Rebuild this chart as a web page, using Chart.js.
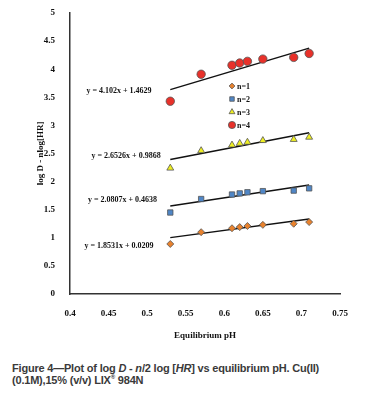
<!DOCTYPE html>
<html>
<head>
<meta charset="utf-8">
<script src="https://cdn.jsdelivr.net/npm/chart.js@4/dist/chart.umd.min.js"></script>
<style>
  html, body { margin: 0; padding: 0; background: #fff; }
  #wrap { position: relative; width: 375px; height: 345px; }
  #cap { position: absolute; left: 12px; top: 362px; width: 340px; font: bold 11px "Liberation Sans", Arial, sans-serif; color: #3a3a3a; line-height: 12px; letter-spacing: -0.2px; }
</style>
</head>
<body>
<div id="wrap"><canvas id="c"></canvas></div>
<div id="cap">Figure 4—Plot of log <i>D</i> - <i>n</i>/2 log [<i>HR</i>] vs equilibrium pH. Cu(II)<br>(0.1M),15% (v/v) LIX<sup style="font-size:6px;line-height:0">®</sup> 984N</div>
<script>
/* log D - n log[HR] vs equilibrium pH, four n values with linear fits */
const pH = [0.53, 0.57, 0.61, 0.62, 0.63, 0.65, 0.69, 0.71];
const n1 = [0.89, 1.10, 1.17, 1.19, 1.21, 1.23, 1.25, 1.28];
const n2 = [1.45, 1.69, 1.77, 1.79, 1.81, 1.83, 1.84, 1.88];
const n3 = [2.24, 2.55, 2.65, 2.68, 2.70, 2.73, 2.75, 2.79];
const n4 = [3.43, 3.91, 4.07, 4.11, 4.14, 4.18, 4.21, 4.28];
const seriesNames = ["n=1", "n=2", "n=3", "n=4"];
const slopes = [1.8531, 2.0807, 2.6526, 4.102];
const intercepts = [0.0209, 0.4638, 0.9868, 1.4629];
const fitLabels = ["y = 1.8531x + 0.0209", "y = 2.0807x + 0.4638", "y = 2.6526x + 0.9868", "y = 4.102x + 1.4629"];
const labelAt = [[0.4636, 0.86], [0.4680, 1.67], [0.4727, 2.46], [0.4636, 3.62]];
const xTicks = [0.4, 0.45, 0.5, 0.55, 0.6, 0.65, 0.7, 0.75];

const colors = ["#e8822e", "#4f86c6", "#eeee22", "#e8312a"];
const shapes = ["rectRot", "rect", "triangle", "circle"];
const radii = [3.5, 3.8, 4, 4.2];
const serif = '"Liberation Serif", "Times New Roman", serif';

const ys = [n1, n2, n3, n4];
const datasets = [];
ys.forEach((arr, i) => {
  datasets.push({ label: seriesNames[i], type: "scatter", data: pH.map((x, k) => ({ x, y: arr[k] })),
    pointStyle: shapes[i], pointRadius: radii[i], backgroundColor: colors[i], borderColor: "#555", borderWidth: 0.8 });
});
ys.forEach((arr, i) => {
  const x0 = pH[0], x1 = pH[pH.length - 1];
  datasets.push({ label: "fit" + i, type: "line", data: [{ x: x0, y: slopes[i] * x0 + intercepts[i] }, { x: x1, y: slopes[i] * x1 + intercepts[i] }],
    borderColor: "#111", borderWidth: 1.5, pointRadius: 0, fill: false });
});

// equation labels + small legend inside the plot
const notes = {
  id: "notes",
  afterDatasetsDraw(chart) {
    const { ctx, scales: { x, y } } = chart;
    ctx.save();
    ctx.fillStyle = "#111";
    ctx.font = "bold 8px " + serif;
    ctx.textAlign = "center"; ctx.textBaseline = "middle";
    fitLabels.forEach((t, i) => ctx.fillText(t, x.getPixelForValue(labelAt[i][0]), y.getPixelForValue(labelAt[i][1])));
    ctx.textAlign = "left";
    seriesNames.forEach((t, i) => {
      const ly = 86 + i * 13, lx = 232;
      ctx.fillStyle = colors[i]; ctx.strokeStyle = "#555"; ctx.lineWidth = 0.8;
      Chart.helpers.drawPoint(ctx, { pointStyle: shapes[i], radius: radii[i] - 0.6, borderWidth: 0.8 }, lx, ly);
      ctx.fillStyle = "#111";
      ctx.fillText(t, lx + 5, ly + 0.5);
    });
    ctx.restore();
  }
};

new Chart(document.getElementById("c"), {
  type: "scatter",
  data: { datasets },
  plugins: [notes],
  options: {
    responsive: true, maintainAspectRatio: false, animation: false,
    layout: { padding: { top: 13, right: 35, left: 0, bottom: 0 } },
    plugins: { legend: { display: false }, tooltip: { enabled: false } },
    scales: {
      x: {
        type: "linear", min: 0.4, max: 0.75,
        afterBuildTicks: (s) => { s.ticks = xTicks.map((v) => ({ value: v })); },
        afterFit: (s) => { s.height = 51; },
        border: { color: "#333", width: 1.5 },
        grid: { display: false },
        ticks: { color: "#111", font: { family: serif, size: 9, weight: "bold" }, padding: 6,
          callback: (v) => String(Math.round(v * 100) / 100) },
        title: { display: true, text: "Equilibrium pH", color: "#111", font: { family: serif, size: 9, weight: "bold" }, padding: { top: 14 } }
      },
      y: {
        min: 0, max: 5,
        afterFit: (s) => { s.width = 70; },
        border: { color: "#333", width: 1.5 },
        grid: { display: false },
        ticks: { stepSize: 0.5, color: "#111", font: { family: serif, size: 9, weight: "bold" }, padding: 7,
          callback: (v) => String(Math.round(v * 10) / 10) },
        title: { display: true, text: "log D - nlog[HR]", color: "#111", font: { family: serif, size: 9, weight: "bold" }, padding: { top: 35, bottom: 0 } }
      }
    }
  }
});
</script>
</body>
</html>
